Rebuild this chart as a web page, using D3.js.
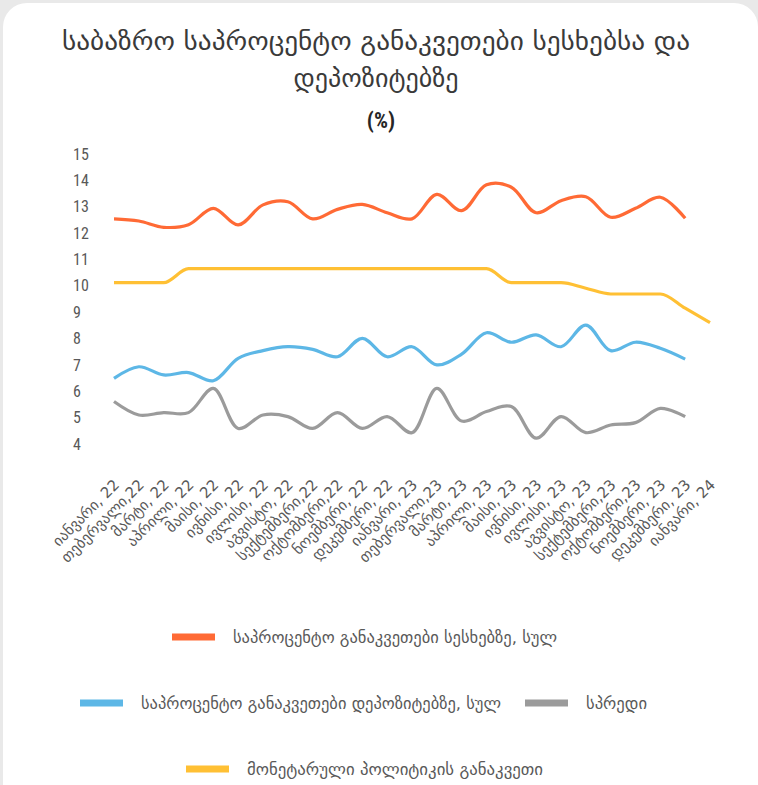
<!DOCTYPE html>
<html>
<head>
<meta charset="utf-8">
<style>
body, html {
	margin: 0;
	background: #e9e9e9;
}
svg { display: block; }
</style>
</head>
<body>
<div id="chartContainer"></div>
<script src="https://cdn.jsdelivr.net/npm/d3@7"></script>
<script>

const months = [
	"იანვარი, 22", "თებერვალი,22", "მარტი, 22", "აპრილი, 22", "მაისი, 22", "ივნისი, 22",
	"ივლისი, 22", "აგვისტო, 22", "სექტემბერი,22", "ოქტომბერი,22", "ნოემბერი, 22", "დეკემბერი, 22",
	"იანვარი, 23", "თებერვალი,23", "მარტი, 23", "აპრილი, 23", "მაისი, 23", "ივნისი, 23",
	"ივლისი, 23", "აგვისტო, 23", "სექტემბერი,23", "ოქტომბერი,23", "ნოემბერი, 23", "დეკემბერი, 23",
	"იანვარი, 24"
];

const loanRates = [12.54, 12.46, 12.22, 12.32, 12.94, 12.31, 13.07, 13.19, 12.54, 12.90, 13.09, 12.77,
	12.54, 13.47, 12.85, 13.83, 13.74, 12.77, 13.23, 13.38, 12.60, 12.94, 13.36, 12.56];
const depositRates = [6.49, 6.93, 6.62, 6.71, 6.40, 7.25, 7.54, 7.69, 7.59, 7.31, 8.01, 7.31,
	7.69, 7.00, 7.41, 8.22, 7.86, 8.14, 7.69, 8.51, 7.54, 7.86, 7.63, 7.22];
const spread = [5.61, 5.10, 5.19, 5.19, 6.11, 4.59, 5.10, 5.04, 4.59, 5.19, 4.59, 5.04,
	4.43, 6.11, 4.87, 5.23, 5.42, 4.22, 5.04, 4.43, 4.72, 4.81, 5.35, 5.04];
const policyRate = [10.12, 10.12, 10.12, 10.65, 10.65, 10.65, 10.65, 10.65, 10.65, 10.65, 10.65, 10.65,
	10.65, 10.65, 10.65, 10.65, 10.12, 10.12, 10.12, 9.91, 9.69, 9.69, 9.69, 9.15, 8.60];

const yTicks = [4, 5, 6, 7, 8, 9, 10, 11, 12, 13, 14, 15];

const titleLines = ["საბაზრო საპროცენტო განაკვეთები სესხებსა და", "დეპოზიტებზე"];
const unitLabel = "(%)";

const series = [
	{ name: "საპროცენტო განაკვეთები სესხებზე, სულ", values: loanRates, color: "#ff6a35" },
	{ name: "საპროცენტო განაკვეთები დეპოზიტებზე, სულ", values: depositRates, color: "#5db7e6" },
	{ name: "სპრედი", values: spread, color: "#9b9b9b" },
	{ name: "მონეტარული პოლიტიკის განაკვეთი", values: policyRate, color: "#ffc034" }
];

// legend placement (swatch left edge, row centre, text width)
const legendItems = [
	{ s: 0, x: 172, y: 637, w: 324 },
	{ s: 1, x: 80, y: 703, w: 360 },
	{ s: 2, x: 525, y: 703, w: 61 },
	{ s: 3, x: 186, y: 769, w: 296 }
];

const WIDTH = 758;
const HEIGHT = 785;
const GEO_FONT = "'DejaVu Sans', sans-serif";
const NUM_FONT = "'Liberation Sans Narrow', 'Roboto Condensed', 'Liberation Sans', sans-serif";
const TEXT_COLOR = "#595959";

var svg = d3.select("#chartContainer").append("svg")
	.attr("width", WIDTH)
	.attr("height", HEIGHT);

svg.append("rect")
	.attr("x", 3).attr("y", 3)
	.attr("width", WIDTH - 3).attr("height", HEIGHT + 20)
	.attr("rx", 24).attr("ry", 24)
	.attr("fill", "#fff");

// title
var title = svg.append("g").attr("class", "title")
	.attr("font-family", GEO_FONT)
	.attr("fill", "#3a3a3a")
	.attr("text-anchor", "middle");

const titleWidths = [628, 165];
title.selectAll("text.line")
	.data(titleLines)
	.enter().append("text")
		.attr("class", "line")
		.attr("x", 376)
		.attr("y", (d, i) => 50 + i * 37)
		.attr("font-size", "25px")
		.attr("textLength", (d, i) => titleWidths[i])
		.attr("lengthAdjust", "spacingAndGlyphs")
		.text((d) => d);

title.append("text")
	.attr("x", 381)
	.attr("y", 128)
	.attr("font-family", NUM_FONT)
	.attr("font-weight", "bold")
	.attr("font-size", "22px")
	.attr("fill", "#262626")
	.text(unitLabel);

// scales
var x = d3.scalePoint().domain(months).range([114, 710]);
var y = d3.scaleLinear().domain([4, 15]).range([444, 154]);

// y axis
var yAxis = svg.append("g")
	.attr("transform", "translate(73,0)")
	.call(d3.axisLeft(y).tickValues(yTicks).tickSize(0).tickFormat(d3.format("d")));
yAxis.select(".domain").remove();
yAxis.selectAll("text")
	.attr("x", 0)
	.attr("text-anchor", "start")
	.attr("fill", TEXT_COLOR)
	.attr("font-family", NUM_FONT)
	.attr("font-size", "16px");

// x axis
var xAxis = svg.append("g")
	.attr("transform", "translate(0,470)")
	.call(d3.axisBottom(x).tickSize(0));
xAxis.select(".domain").remove();
xAxis.selectAll("text")
	.attr("fill", TEXT_COLOR)
	.attr("font-family", GEO_FONT)
	.attr("font-size", "15px")
	.attr("text-anchor", "end")
	.attr("dy", "0.35em")
	.attr("transform", "translate(2,12) rotate(-45)")
	.attr("y", 0);

// lines
var smooth = d3.line()
	.x((d, i) => x(months[i]))
	.y((d) => y(d))
	.curve(d3.curveCatmullRom.alpha(0.5));
var stepped = d3.line()
	.x((d, i) => x(months[i]))
	.y((d) => y(d))
	.curve(d3.curveMonotoneX);

svg.append("g").attr("class", "lines")
	.selectAll("path")
	.data([series[3], series[0], series[1], series[2]])
	.enter().append("path")
		.attr("d", (d) => (d === series[3] ? stepped : smooth)(d.values))
		.attr("fill", "none")
		.attr("stroke", (d) => d.color)
		.attr("stroke-width", 3.2)
		.attr("stroke-linejoin", "round");

// legend
var legend = svg.append("g").attr("class", "legend")
	.selectAll("g")
	.data(legendItems)
	.enter().append("g")
		.attr("transform", (d) => `translate(${d.x},${d.y})`);

legend.append("rect")
	.attr("x", 0).attr("y", -3.5)
	.attr("width", 43).attr("height", 7)
	.attr("fill", (d) => series[d.s].color);

legend.append("text")
	.attr("x", 61)
	.attr("dy", "0.35em")
	.attr("fill", TEXT_COLOR)
	.attr("font-family", GEO_FONT)
	.attr("font-size", "16px")
	.attr("textLength", (d) => d.w)
	.attr("lengthAdjust", "spacingAndGlyphs")
	.text((d) => series[d.s].name);

</script>
</body>
</html>
